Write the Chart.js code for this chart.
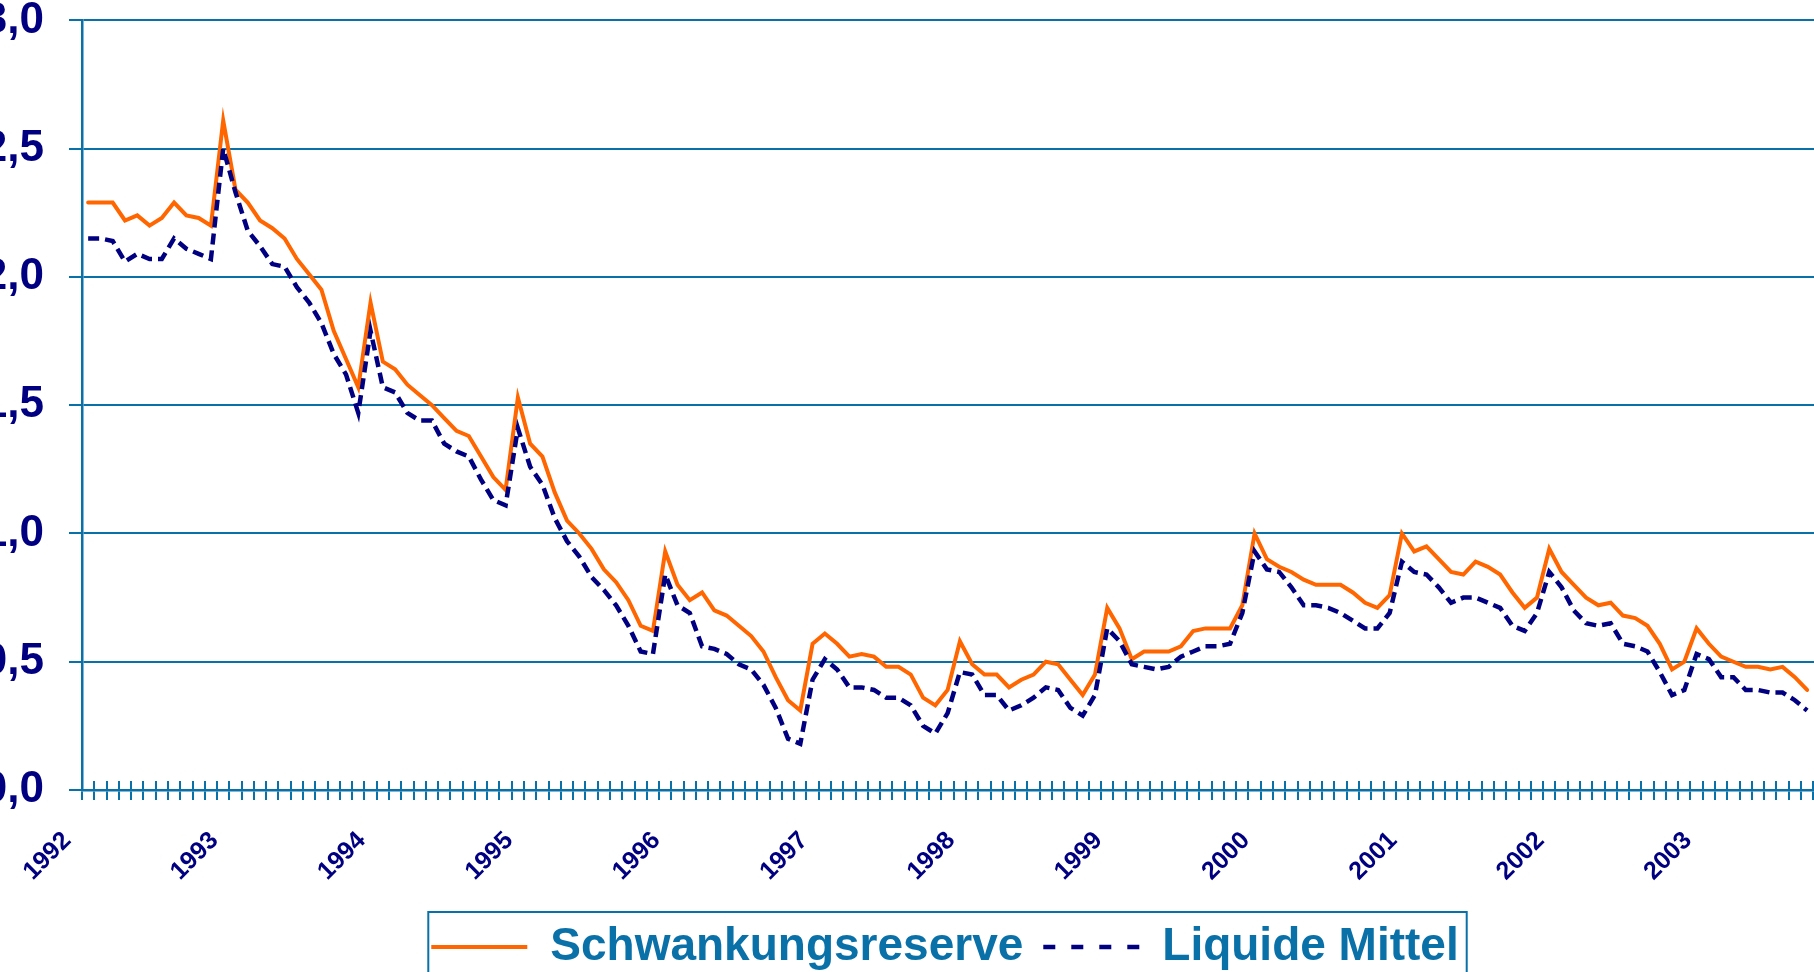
<!DOCTYPE html>
<html>
<head>
<meta charset="utf-8">
<script src="https://cdn.jsdelivr.net/npm/chart.js@4"></script>
<style>
  html, body { margin: 0; padding: 0; background: #fff; overflow: hidden; }
  body { width: 1814px; height: 972px; position: relative; }
  #chart { position: absolute; left: -38px; top: -31px; }
</style>
</head>
<body>
<canvas id="chart" width="1966" height="1011"></canvas>
<script>
const BLUE = "#0a70a8";
const NAVY = "#000080";
const ORANGE = "#ff6600";

// one label per year, shown under January
const years = ["1992", "1993", "1994", "1995", "1996", "1997", "1998", "1999", "2000", "2001", "2002", "2003"];

// monthly categories, the axis runs on past the visible edge
const monthCount = 147;
const months = [];
for (let i = 0; i < monthCount; i++) {
    months.push((1992 + Math.floor(i / 12)) + "-" + String(i % 12 + 1).padStart(2, "0"));
}

const schwankungsreserve = [
    2.29, 2.29, 2.29, 2.22, 2.24, 2.20, 2.23, 2.29, 2.24, 2.23, 2.20, 2.61,
    2.34, 2.29, 2.22, 2.19, 2.15, 2.07, 2.01, 1.95, 1.79, 1.68, 1.57, 1.90,
    1.67, 1.64, 1.58, 1.54, 1.50, 1.45, 1.40, 1.38, 1.30, 1.22, 1.17, 1.53,
    1.35, 1.30, 1.16, 1.05, 1.00, 0.94, 0.86, 0.81, 0.74, 0.64, 0.62, 0.93,
    0.80, 0.74, 0.77, 0.70, 0.68, 0.64, 0.60, 0.54, 0.44, 0.35, 0.31, 0.57,
    0.61, 0.57, 0.52, 0.53, 0.52, 0.48, 0.48, 0.45, 0.36, 0.33, 0.39, 0.58,
    0.49, 0.45, 0.45, 0.40, 0.43, 0.45, 0.50, 0.49, 0.43, 0.37, 0.45, 0.71,
    0.63, 0.51, 0.54, 0.54, 0.54, 0.56, 0.62, 0.63, 0.63, 0.63, 0.72, 1.00,
    0.90, 0.87, 0.85, 0.82, 0.80, 0.80, 0.80, 0.77, 0.73, 0.71, 0.76, 1.00,
    0.93, 0.95, 0.90, 0.85, 0.84, 0.89, 0.87, 0.84, 0.77, 0.71, 0.75, 0.94,
    0.85, 0.80, 0.75, 0.72, 0.73, 0.68, 0.67, 0.64, 0.57, 0.47, 0.50, 0.63,
    0.57, 0.52, 0.50, 0.48, 0.48, 0.47, 0.48, 0.44, 0.39
];

const liquideMittel = [
    2.15, 2.15, 2.14, 2.06, 2.09, 2.07, 2.07, 2.15, 2.11, 2.09, 2.07, 2.50,
    2.33, 2.18, 2.12, 2.05, 2.04, 1.96, 1.90, 1.82, 1.70, 1.62, 1.47, 1.79,
    1.57, 1.55, 1.47, 1.44, 1.44, 1.35, 1.32, 1.30, 1.21, 1.13, 1.11, 1.41,
    1.26, 1.19, 1.06, 0.97, 0.91, 0.83, 0.78, 0.72, 0.64, 0.54, 0.53, 0.84,
    0.72, 0.69, 0.56, 0.55, 0.53, 0.49, 0.47, 0.41, 0.32, 0.20, 0.18, 0.43,
    0.51, 0.47, 0.40, 0.40, 0.39, 0.36, 0.36, 0.33, 0.25, 0.22, 0.30, 0.46,
    0.45, 0.37, 0.37, 0.31, 0.33, 0.36, 0.40, 0.39, 0.32, 0.29, 0.37, 0.63,
    0.58, 0.49, 0.48, 0.47, 0.48, 0.52, 0.54, 0.56, 0.56, 0.57, 0.69, 0.93,
    0.86, 0.85, 0.79, 0.72, 0.72, 0.71, 0.69, 0.66, 0.63, 0.63, 0.69, 0.89,
    0.85, 0.84, 0.79, 0.73, 0.75, 0.75, 0.73, 0.71, 0.64, 0.62, 0.69, 0.85,
    0.79, 0.70, 0.65, 0.64, 0.65, 0.57, 0.56, 0.54, 0.46, 0.37, 0.39, 0.53,
    0.51, 0.44, 0.44, 0.39, 0.39, 0.38, 0.38, 0.35, 0.31
];

// Excel style cross tick marks: the part above the x axis
const crossTicks = {
    id: "crossTicks",
    beforeDatasetsDraw(chart) {
        const x = chart.scales.x;
        const ctx = chart.ctx;
        ctx.save();
        ctx.strokeStyle = BLUE;
        ctx.lineWidth = 2;
        ctx.beginPath();
        for (let k = 0; k <= months.length; k++) {
            const px = Math.round(x.getPixelForValue(k - 0.5));
            ctx.moveTo(px, x.top - 9);
            ctx.lineTo(px, x.top);
        }
        ctx.stroke();
        ctx.restore();
    }
};

// frame around the legend
const legendFrame = {
    id: "legendFrame",
    afterDraw(chart) {
        const boxes = chart.legend.legendHitBoxes;
        if (!boxes || !boxes.length) return;
        const first = boxes[0];
        const last = boxes[boxes.length - 1];
        const left = first.left - 3;
        const right = last.left + last.width + 8;
        const ctx = chart.ctx;
        ctx.save();
        ctx.strokeStyle = BLUE;
        ctx.lineWidth = 2;
        ctx.strokeRect(left, first.top - 12, right - left, first.height + 60);
        ctx.restore();
    }
};

const ctx = document.getElementById("chart").getContext("2d");
new Chart(ctx, {
    type: "line",
    data: {
        labels: months,
        datasets: [
            {
                label: "Schwankungsreserve",
                data: schwankungsreserve,
                borderColor: ORANGE,
                backgroundColor: ORANGE,
                borderWidth: 4,
                borderCapStyle: "round",
                pointRadius: 0,
                tension: 0,
                order: 1
            },
            {
                label: "Liquide Mittel",
                data: liquideMittel,
                borderColor: NAVY,
                backgroundColor: NAVY,
                borderWidth: 4.5,
                borderDash: [11, 6],
                pointRadius: 0,
                tension: 0,
                order: 0
            }
        ]
    },
    options: {
        responsive: false,
        animation: false,
        layout: { padding: 0 },
        plugins: {
            tooltip: { enabled: false },
            legend: {
                position: "bottom",
                labels: {
                    usePointStyle: true,
                    pointStyle: "line",
                    pointStyleWidth: 96,
                    padding: 20,
                    color: BLUE,
                    font: { family: "Liberation Sans", size: 46, weight: "bold" },
                    generateLabels: chart => {
                        const items = Chart.defaults.plugins.legend.labels.generateLabels(chart);
                        items.sort((a, b) => a.datasetIndex - b.datasetIndex);
                        items.forEach(it => {
                            if (it.datasetIndex === 1) it.lineDash = [12, 16];
                        });
                        return items;
                    }
                }
            }
        },
        scales: {
            x: {
                type: "category",
                offset: true,
                grid: {
                    offset: true,
                    drawOnChartArea: false,
                    drawTicks: true,
                    tickLength: 10,
                    color: BLUE,
                    lineWidth: 2
                },
                border: { color: BLUE, width: 2.5 },
                ticks: {
                    autoSkip: false,
                    minRotation: 45,
                    maxRotation: 45,
                    padding: 26,
                    labelOffset: -21,
                    color: NAVY,
                    font: { family: "Liberation Sans", size: 25, weight: "bold" },
                    callback: (value, index) => (index % 12 === 0 && years[index / 12]) ? years[index / 12] : ""
                },
                afterFit: scale => { scale.height = 114; }
            },
            y: {
                min: 0,
                max: 3,
                ticks: {
                    stepSize: 0.5,
                    padding: 25,
                    color: NAVY,
                    font: { family: "Liberation Sans", size: 44, weight: "bold" },
                    callback: v => v.toFixed(1).replace(".", ",")
                },
                grid: { color: BLUE, lineWidth: 2, tickLength: 13 },
                border: { color: BLUE, width: 2.5 },
                afterFit: scale => { scale.width = 120; }
            }
        }
    },
    plugins: [crossTicks, legendFrame]
});
</script>
</body>
</html>
